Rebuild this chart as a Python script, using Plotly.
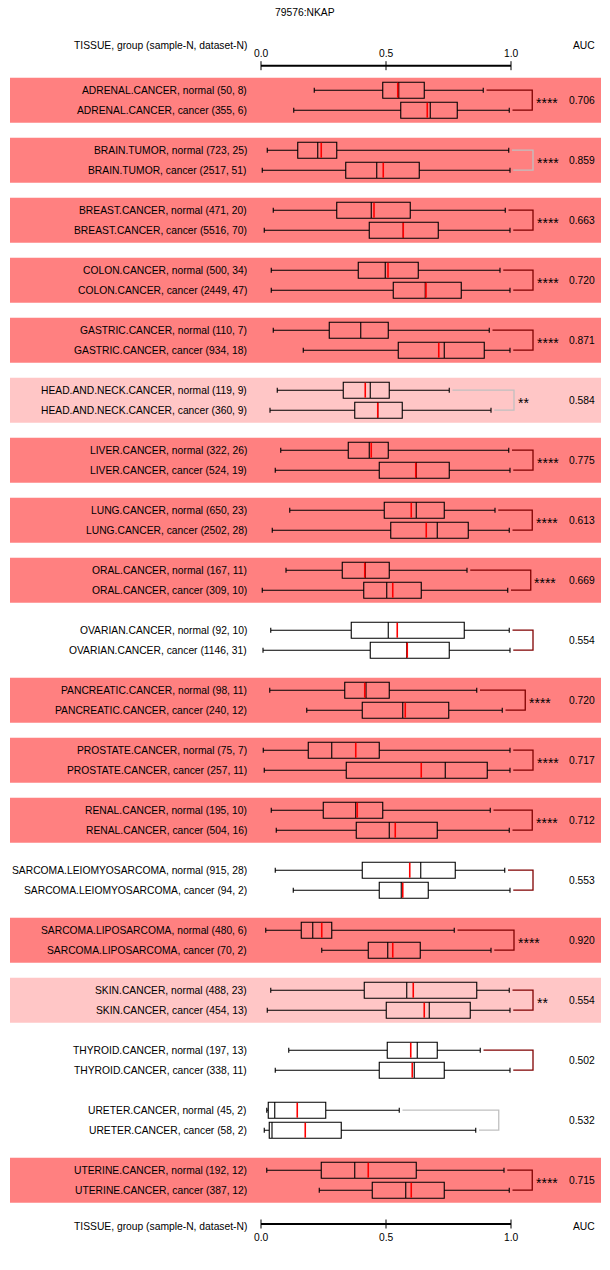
import plotly.graph_objects as go

title = "79576:NKAP"
header_left = "TISSUE, group (sample-N, dataset-N)"
header_right = "AUC"
tick_vals = [0.0, 0.5, 1.0]
tick_text = ["0.0", "0.5", "1.0"]

tissues = ["ADRENAL.CANCER", "BRAIN.TUMOR", "BREAST.CANCER", "COLON.CANCER", "GASTRIC.CANCER",
           "HEAD.AND.NECK.CANCER", "LIVER.CANCER", "LUNG.CANCER", "ORAL.CANCER", "OVARIAN.CANCER",
           "PANCREATIC.CANCER", "PROSTATE.CANCER", "RENAL.CANCER", "SARCOMA.LEIOMYOSARCOMA",
           "SARCOMA.LIPOSARCOMA", "SKIN.CANCER", "THYROID.CANCER", "URETER.CANCER", "UTERINE.CANCER"]
normal_n = ["(50, 8)", "(723, 25)", "(471, 20)", "(500, 34)", "(110, 7)", "(119, 9)", "(322, 26)",
            "(650, 23)", "(167, 11)", "(92, 10)", "(98, 11)", "(75, 7)", "(195, 10)", "(915, 28)",
            "(480, 6)", "(488, 23)", "(197, 13)", "(45, 2)", "(192, 12)"]
cancer_n = ["(355, 6)", "(2517, 51)", "(5516, 70)", "(2449, 47)", "(934, 18)", "(360, 9)", "(524, 19)",
            "(2502, 28)", "(309, 10)", "(1146, 31)", "(240, 12)", "(257, 11)", "(504, 16)", "(94, 2)",
            "(70, 2)", "(454, 13)", "(338, 11)", "(58, 2)", "(387, 12)"]
auc = ["0.706", "0.859", "0.663", "0.720", "0.871", "0.584", "0.775", "0.613", "0.669", "0.554",
       "0.720", "0.717", "0.712", "0.553", "0.920", "0.554", "0.502", "0.532", "0.715"]
stars = ["****", "****", "****", "****", "****", "**", "****", "****", "****", "",
         "****", "****", "****", "", "****", "**", "", "", "****"]
band_class = ["strong", "strong", "strong", "strong", "strong", "weak", "strong", "strong", "strong", "none",
              "strong", "strong", "strong", "none", "strong", "weak", "none", "none", "strong"]
bracket_class = ["dark", "gray", "dark", "dark", "dark", "gray", "dark", "dark", "dark", "dark",
                 "dark", "dark", "dark", "dark", "dark", "dark", "dark", "gray", "dark"]

normal_min = [0.213, 0.025, 0.049, 0.041, 0.049, 0.065, 0.079, 0.115, 0.100, 0.039,
              0.035, 0.009, 0.041, 0.057, 0.019, 0.039, 0.111, 0.023, 0.023]
normal_q1 = [0.487, 0.147, 0.303, 0.389, 0.273, 0.329, 0.349, 0.493, 0.325, 0.361,
             0.335, 0.189, 0.249, 0.405, 0.161, 0.413, 0.505, 0.029, 0.241]
normal_med = [0.551, 0.227, 0.441, 0.497, 0.399, 0.437, 0.433, 0.621, 0.417, 0.509,
              0.420, 0.283, 0.379, 0.639, 0.207, 0.583, 0.625, 0.055, 0.375]
normal_mean = [0.547, 0.241, 0.452, 0.508, None, 0.417, 0.441, 0.601, 0.415, 0.545,
               0.415, 0.379, 0.385, 0.595, 0.243, 0.609, 0.599, 0.145, 0.429]
normal_q3 = [0.653, 0.303, 0.597, 0.629, 0.509, 0.513, 0.509, 0.733, 0.513, 0.813,
             0.513, 0.473, 0.487, 0.777, 0.283, 0.863, 0.705, 0.259, 0.621]
normal_max = [0.889, 0.991, 0.977, 0.956, 0.913, 0.753, 0.991, 0.936, 0.824, 0.993,
              0.863, 0.996, 0.917, 0.975, 0.773, 0.993, 0.877, 0.553, 0.972]

cancer_min = [0.131, 0.005, 0.013, 0.041, 0.169, 0.036, 0.057, 0.045, 0.005, 0.008,
              0.183, 0.013, 0.061, 0.129, 0.243, 0.025, 0.057, 0.013, 0.233]
cancer_q1 = [0.559, 0.339, 0.433, 0.529, 0.549, 0.375, 0.473, 0.519, 0.411, 0.437,
             0.405, 0.341, 0.381, 0.473, 0.429, 0.501, 0.473, 0.033, 0.445]
cancer_med = [0.677, 0.463, 0.569, 0.657, 0.733, 0.467, 0.621, 0.705, 0.503, 0.583,
              0.567, 0.737, 0.513, 0.561, 0.507, 0.673, 0.613, 0.044, 0.579]
cancer_mean = [0.665, 0.489, 0.569, 0.660, 0.711, 0.467, 0.619, 0.661, 0.527, 0.585,
               0.577, 0.641, 0.537, 0.567, 0.527, 0.653, 0.605, 0.177, 0.601]
cancer_q3 = [0.785, 0.633, 0.709, 0.801, 0.893, 0.565, 0.753, 0.829, 0.641, 0.753,
             0.751, 0.905, 0.705, 0.669, 0.637, 0.837, 0.733, 0.321, 0.733]
cancer_max = [0.993, 0.996, 0.996, 0.996, 0.996, 0.920, 0.996, 0.993, 0.987, 0.996,
              0.965, 0.996, 0.993, 0.996, 0.920, 0.996, 0.996, 0.859, 0.993]

# ---- layout constants (pixels) ----
W, H = 610, 1270
PX0, PXU = 261.0, 250.0          # pixel of value 0, pixels per unit
FIRST_TOP, PITCH, BAND_H = 77.7, 60.0, 45.0
ROW_OFF = 10.0
BOX_H = 16.0
FONT = "Liberation Sans, Arial, sans-serif"
FS = 10.3
band_colors = {"strong": "#FF8080", "weak": "#FFC6C6", "none": None}
bracket_colors = {"dark": "#800000", "gray": "#C0C0C0"}

def px2v(p):
    return (p - PX0) / PXU

fig = go.Figure()
shapes = []
annotations = []

n = len(tissues)
centers = [FIRST_TOP + PITCH * i + BAND_H / 2 for i in range(n)]
y_norm = [c - ROW_OFF for c in centers]
y_canc = [c + ROW_OFF for c in centers]

# bands
for i in range(n):
    col = band_colors[band_class[i]]
    if col:
        shapes.append(dict(type="rect", xref="paper", yref="y", x0=10 / W, x1=601 / W,
                           y0=FIRST_TOP + PITCH * i, y1=FIRST_TOP + PITCH * i + BAND_H,
                           fillcolor=col, line=dict(width=0), layer="below"))

# boxes
ys, q1, med, q3, lo, hi = [], [], [], [], [], []
for i in range(n):
    ys += [y_norm[i], y_canc[i]]
    q1 += [normal_q1[i], cancer_q1[i]]
    med += [normal_med[i], cancer_med[i]]
    q3 += [normal_q3[i], cancer_q3[i]]
    lo += [normal_min[i], cancer_min[i]]
    hi += [normal_max[i], cancer_max[i]]

fig.add_trace(go.Box(orientation="h", y=ys, q1=q1, median=med, q3=q3, lowerfence=lo, upperfence=hi,
                     width=BOX_H, whiskerwidth=0.32, boxpoints=False,
                     line=dict(color="black", width=1.1), fillcolor="rgba(0,0,0,0)",
                     showlegend=False, hoverinfo="skip"))

# means (red lines)
mx, my = [], []
for i in range(n):
    for m, yc in ((normal_mean[i], y_norm[i]), (cancer_mean[i], y_canc[i])):
        if m is None:
            continue
        mx += [m, m, None]
        my += [yc - BOX_H / 2 + 0.5, yc + BOX_H / 2 - 0.5, None]
fig.add_trace(go.Scatter(x=mx, y=my, mode="lines", line=dict(color="#FF0000", width=1.6),
                         showlegend=False, hoverinfo="skip"))

# brackets
for cls in ("dark", "gray"):
    bx_, by_ = [], []
    for i in range(n):
        if bracket_class[i] != cls:
            continue
        bx = max(normal_max[i], cancer_max[i]) + 0.092
        bx_ += [normal_max[i] + 0.013, bx, bx, cancer_max[i] + 0.013, None]
        by_ += [y_norm[i], y_norm[i], y_canc[i], y_canc[i], None]
    fig.add_trace(go.Scatter(x=bx_, y=by_, mode="lines", line=dict(color=bracket_colors[cls], width=1.3),
                             showlegend=False, hoverinfo="skip"))

# labels
for i in range(n):
    annotations.append(dict(x=249 / W, xref="paper", y=y_norm[i], yref="y", xanchor="right", yanchor="middle",
                            text=f"{tissues[i]}, normal {normal_n[i]}", showarrow=False,
                            font=dict(family=FONT, size=FS, color="black")))
    annotations.append(dict(x=249 / W, xref="paper", y=y_canc[i], yref="y", xanchor="right", yanchor="middle",
                            text=f"{tissues[i]}, cancer {cancer_n[i]}", showarrow=False,
                            font=dict(family=FONT, size=FS, color="black")))
    annotations.append(dict(x=597 / W, xref="paper", y=centers[i], yref="y", xanchor="right", yanchor="middle",
                            text=auc[i], showarrow=False, font=dict(family=FONT, size=FS, color="black")))
    if stars[i]:
        bx = max(normal_max[i], cancer_max[i]) + 0.092
        annotations.append(dict(x=bx + 0.006, xref="x", y=centers[i], yref="y", xanchor="left", yanchor="middle",
                                yshift=-3, text=stars[i], showarrow=False,
                                font=dict(family=FONT, size=14, color="black")))

# axes (top and bottom)
for line_y, lab_y, head_y in ((65.7, 53.3, 45.0), (1224.0, 1237.3, 1226.7)):
    shapes.append(dict(type="line", xref="x", yref="y", x0=tick_vals[0], x1=tick_vals[-1],
                       y0=line_y, y1=line_y, line=dict(color="black", width=2)))
    for tv, tt in zip(tick_vals, tick_text):
        shapes.append(dict(type="line", xref="x", yref="y", x0=tv, x1=tv, y0=line_y - 4.5, y1=line_y + 4.5,
                           line=dict(color="black", width=1)))
        annotations.append(dict(x=tv, xref="x", y=lab_y, yref="y", xanchor="center", yanchor="middle",
                                text=tt, showarrow=False, font=dict(family=FONT, size=FS, color="black")))
    annotations.append(dict(x=249 / W, xref="paper", y=head_y, yref="y", xanchor="right", yanchor="middle",
                            text=header_left, showarrow=False, font=dict(family=FONT, size=FS, color="black")))
    annotations.append(dict(x=597 / W, xref="paper", y=head_y, yref="y", xanchor="right", yanchor="middle",
                            text=header_right, showarrow=False, font=dict(family=FONT, size=FS, color="black")))

annotations.append(dict(x=0.5, xref="paper", y=12.7, yref="y", xanchor="center", yanchor="middle",
                        text=title, showarrow=False, font=dict(family=FONT, size=FS, color="black")))

fig.update_layout(
    width=W, height=H, margin=dict(l=0, r=0, t=0, b=0),
    paper_bgcolor="white", plot_bgcolor="white",
    xaxis=dict(range=[px2v(0), px2v(W)], visible=False, fixedrange=True),
    yaxis=dict(range=[H, 0], visible=False, fixedrange=True),
    shapes=shapes, annotations=annotations, showlegend=False,
)

fig.write_html("out.html",
               config={"displayModeBar": False, "staticPlot": True},
               post_script="document.body.style.margin='0';document.body.style.padding='0';"
                           "document.body.style.overflow='hidden';")
